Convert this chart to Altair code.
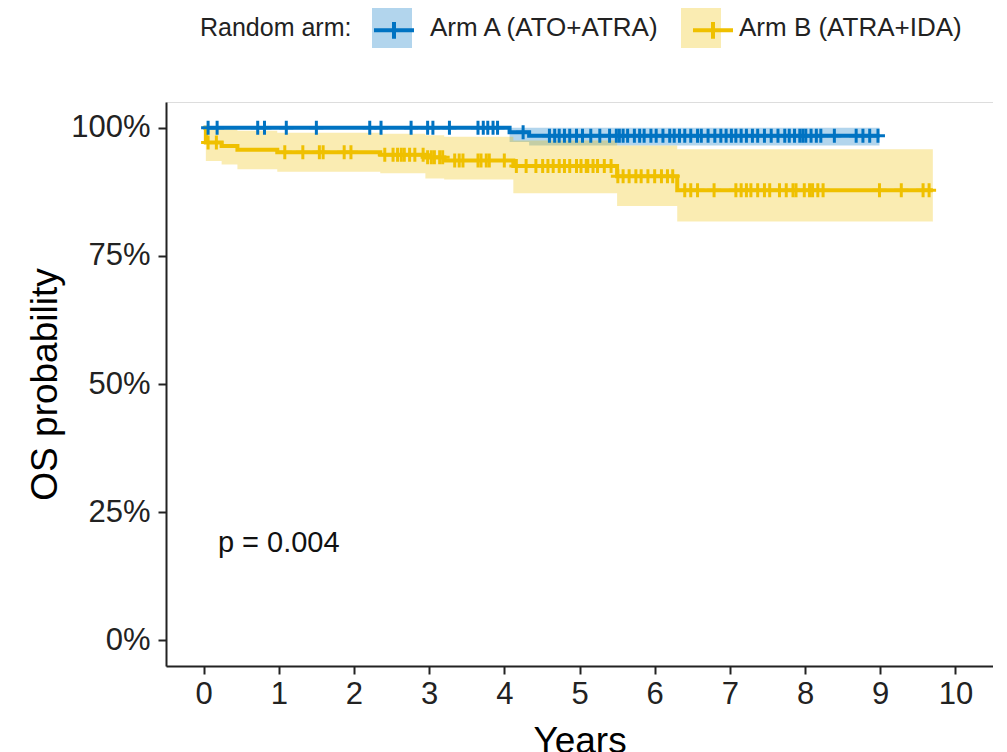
import altair as alt
import pandas as pd

ARM_A = "Arm A (ATO+ATRA)"
ARM_B = "Arm B (ATRA+IDA)"
BLUE = "#0073C2"
YELLOW = "#EFC000"

# Kaplan-Meier steps, Arm A
a_time = [0.0, 4.07, 4.33, 8.99]
a_surv = [1.0, 0.991, 0.984, 0.984]
a_lower = [1.0, 0.972, 0.965, 0.965]
a_upper = [1.0, 1.0, 1.0, 1.0]

# Kaplan-Meier steps, Arm B
b_time = [0.0, 0.03, 0.24, 0.45, 0.98, 2.35, 2.95, 3.2, 4.12, 5.5, 6.3, 9.7]
b_surv = [1.0, 0.971, 0.964, 0.957, 0.952, 0.947, 0.942, 0.936, 0.925, 0.905, 0.878, 0.878]
b_lower = [1.0, 0.935, 0.928, 0.919, 0.914, 0.911, 0.901, 0.899, 0.872, 0.847, 0.817, 0.817]
b_upper = [1.0, 1.0, 0.998, 0.994, 0.990, 0.988, 0.985, 0.982, 0.975, 0.965, 0.958, 0.958]

# censoring times
a_censor = [0.06, 0.18, 0.72, 0.81, 1.10, 1.50, 2.21, 2.36, 2.76, 2.98, 3.05, 3.27,
            3.65, 3.72, 3.78, 3.85, 3.91, 4.25, 4.60, 4.67, 4.73, 4.80, 4.87, 4.96,
            5.04, 5.15, 5.27, 5.40, 5.49, 5.53, 5.58, 5.64, 5.73, 5.80, 5.86, 5.95,
            6.02, 6.11, 6.20, 6.26, 6.33, 6.40, 6.48, 6.57, 6.62, 6.71, 6.80, 6.88,
            6.95, 7.02, 7.08, 7.15, 7.22, 7.30, 7.37, 7.46, 7.55, 7.64, 7.73, 7.79,
            7.86, 7.93, 7.97, 8.01, 8.08, 8.15, 8.21, 8.39, 8.68, 8.77, 8.86, 8.97]
b_censor = [0.06, 0.17, 1.08, 1.32, 1.54, 1.59, 1.87, 1.96, 2.41, 2.52, 2.58, 2.63,
            2.67, 2.74, 2.81, 2.92, 2.98, 3.03, 3.07, 3.14, 3.18, 3.34, 3.40, 3.45,
            3.65, 3.69, 3.76, 3.80, 4.00, 4.16, 4.29, 4.42, 4.51, 4.58, 4.65, 4.73,
            4.80, 4.87, 4.96, 5.02, 5.09, 5.11, 5.18, 5.24, 5.33, 5.42, 5.51, 5.58,
            5.66, 5.75, 5.82, 5.91, 6.00, 6.09, 6.17, 6.24, 6.40, 6.48, 6.57, 6.79,
            7.08, 7.15, 7.22, 7.28, 7.37, 7.46, 7.53, 7.66, 7.75, 7.84, 7.88, 7.99,
            8.06, 8.10, 8.17, 8.24, 8.99, 9.28, 9.57, 9.65]

x_ticks = list(range(11))
y_ticks = [0, 0.25, 0.5, 0.75, 1.0]
p_text = "p = 0.004"
p_pos = (0.19, 0.19)


def surv_at(times, survs, t):
    s = survs[0]
    for tt, ss in zip(times, survs):
        if tt <= t:
            s = ss
    return s


rows = []
for arm, ts, ss, lo, up in [(ARM_A, a_time, a_surv, a_lower, a_upper),
                            (ARM_B, b_time, b_surv, b_lower, b_upper)]:
    for t, s, l, u in zip(ts, ss, lo, up):
        rows.append({"arm": arm, "band_arm": arm, "time": t, "surv": s, "lower": l, "upper": u})
km = pd.DataFrame(rows)

crows = []
for arm, cs, ts, ss in [(ARM_A, a_censor, a_time, a_surv), (ARM_B, b_censor, b_time, b_surv)]:
    for c in cs:
        crows.append({"arm": arm, "time": c, "surv": surv_at(ts, ss, c)})
cens = pd.DataFrame(crows)

ptxt = pd.DataFrame({"time": [p_pos[0]], "surv": [p_pos[1]], "label": [p_text]})

FONT = "Liberation Sans"
xscale = alt.Scale(domain=[-0.5, 10.5], nice=False, zero=False)
yscale = alt.Scale(domain=[-0.05, 1.05], nice=False, zero=False)

xaxis = alt.Axis(values=x_ticks, title="Years", grid=False, labelFontSize=31,
                 titleFontSize=37, titleFontWeight="normal", tickSize=8, tickWidth=2,
                 domainWidth=2, domainColor="#222222", tickColor="#222222",
                 labelColor="#222222", titleColor="#000000", labelPadding=5,
                 titlePadding=14, labelFont=FONT, titleFont=FONT)
yaxis = alt.Axis(values=y_ticks, format=".0%", title="OS probability", grid=False,
                 labelFontSize=31, titleFontSize=37, titleFontWeight="normal",
                 tickSize=8, tickWidth=2, domainWidth=2, domainColor="#222222",
                 tickColor="#222222", labelColor="#222222", titleColor="#000000",
                 labelPadding=8, titlePadding=6, labelFont=FONT, titleFont=FONT)

common_legend = dict(orient="none", legendX=34, legendY=-94, direction="horizontal",
                     titleOrient="left", titleFontSize=25, titleFontWeight="normal",
                     titlePadding=20, titleAnchor="middle", titleBaseline="middle",
                     labelFontSize=26, labelOffset=18, columnPadding=20, labelLimit=0,
                     symbolSize=1600, titleFont=FONT, labelFont=FONT,
                     title="Random arm:")

legend_fill = alt.Legend(symbolType="square", symbolOpacity=0.3, symbolStrokeWidth=0,
                         titleColor="#222222", labelColor="#222222", zindex=0,
                         **common_legend)
legend_line = alt.Legend(symbolType="M-1,0H1M0,-0.42V0.42", symbolStrokeWidth=4,
                         symbolOpacity=1, titleColor="transparent",
                         labelColor="transparent", zindex=1, **common_legend)

X = alt.X("time:Q", scale=xscale, axis=xaxis)

band = alt.Chart(km).mark_area(interpolate="step-after", fillOpacity=0.3).encode(
    x=X,
    y=alt.Y("lower:Q", scale=yscale, axis=yaxis),
    y2="upper:Q",
    fill=alt.Fill("band_arm:N", scale=alt.Scale(range=[BLUE, YELLOW]), legend=legend_fill),
)

line = alt.Chart(km).mark_line(interpolate="step-after", strokeWidth=4).encode(
    x=X,
    y=alt.Y("surv:Q", scale=yscale, axis=yaxis),
    stroke=alt.Stroke("arm:N", scale=alt.Scale(range=[BLUE, YELLOW]), legend=legend_line),
)

points = alt.Chart(cens).mark_point(shape="M-1,0H1M0,-1V1", size=196, strokeWidth=3,
                                    filled=False, opacity=1).encode(
    x=X,
    y=alt.Y("surv:Q", scale=yscale, axis=yaxis),
    stroke=alt.Stroke("arm:N", legend=legend_line),
)

ptext = alt.Chart(ptxt).mark_text(align="left", baseline="middle", fontSize=29,
                                  font=FONT, color="#111111").encode(
    x=X,
    y=alt.Y("surv:Q", scale=yscale, axis=yaxis),
    text="label:N",
)

chart = alt.layer(band, line, points, ptext).properties(
    width=827, height=564,
    autosize=alt.AutoSizeParams(type="none"),
    padding={"left": 158, "top": 94, "right": 0, "bottom": 86},
).configure_view(stroke=None).configure(font=FONT)

chart.save("out.html", embed_options={"renderer": "svg", "actions": False})
